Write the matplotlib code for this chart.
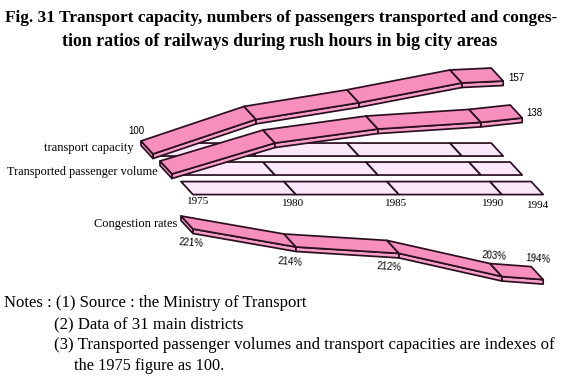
#Fig. 31 transport capacity, passengers and congestion on city railways
import matplotlib
matplotlib.use('Agg')
import matplotlib.pyplot as plt
from matplotlib.patches import Polygon

YEARS=['1975','1980','1985','1990','1994']
CAPACITY=[100,127,140,155.5,157]
PASSENGERS=[100,121,130.5,135,138]
#height of the congestion ribbon as drawn, the last label sits off the trend
CONGESTION=[221,214,211.5,202.5,201.3]
CONGESTION_LABELS=['221%','214%','212%','203%','194%']
CAPACITY_LABELS=['100','157']
PASSENGER_LABELS=['138']

W,H=567,380
XPOS=[0,1,2,3,3.4]
YEAR_PX=103.0
PINK='#f68fbd'
SIDE='#f7a0c8'
FLOOR='#fbe8fb'
EDGE='#2b0f1f'
SKEW=(-12,13)
THICK=4.5

plt.rcParams['font.family']=['Liberation Serif','DejaVu Serif']
fig=plt.figure(figsize=(W/100,H/100),dpi=100,facecolor='white')


def layer(x0,y0,scale,base):
    #full figure axes, x0/y0 is the pixel of position 0 and of the base value
    ax=fig.add_axes([0,0,1,1])
    ax.set_xlim(-x0/YEAR_PX,(W-x0)/YEAR_PX)
    ax.set_ylim(base+(y0-H)/scale,base+y0/scale)
    ax.axis('off')
    ax.patch.set_alpha(0)
    ax.unit_x=1/YEAR_PX
    ax.unit_y=1/scale
    return ax


def face(ax,pts,color,z):
    ax.add_patch(Polygon(pts,closed=True,facecolor=color,edgecolor=EDGE,
                         linewidth=1.25,joinstyle='round',zorder=z))


def floor(ax,level):
    dx=SKEW[0]*ax.unit_x
    dy=SKEW[1]*ax.unit_y
    for a,b in zip(XPOS[:-1],XPOS[1:]):
        face(ax,[(a,level),(b,level),(b+dx,level+dy),(a+dx,level+dy)],FLOOR,1)


def ribbon(ax,vals):
    dx=SKEW[0]*ax.unit_x
    dy=SKEW[1]*ax.unit_y
    t=THICK*ax.unit_y
    for i in range(len(vals)-1):
        a,b=XPOS[i],XPOS[i+1]
        va,vb=vals[i],vals[i+1]
        face(ax,[(a,va),(b,vb),(b,vb-t),(a,va-t)],SIDE,2)
        face(ax,[(a,va),(b,vb),(b+dx,vb+dy),(a+dx,va+dy)],PINK,3)
    #left end cap
    a,va=XPOS[0],vals[0]
    face(ax,[(a,va),(a+dx,va+dy),(a+dx,va+dy-t),(a,va-t)],SIDE,2)


ax1=layer(153,154,1.28,100)
floor(ax1,98.4)
ribbon(ax1,CAPACITY)

ax2=layer(172,174,1.474,100)
floor(ax2,99.3)
ribbon(ax2,PASSENGERS)

ax3=layer(193,229,2.57,221)
floor(ax3,234.4)
ribbon(ax3,CONGESTION)


def txt(x,y,s,**kw):
    kw.setdefault('va','center')
    fig.text(x/W,1-y/H,s,**kw)


#title
txt(5,18,'Fig. 31 Transport capacity, numbers of passengers transported and conges-',
    fontsize=12.45,fontweight='bold')
txt(62,41,'tion ratios of railways during rush hours in big city areas',
    fontsize=12.9,fontweight='bold')

#series names
txt(44,148,'transport capacity',fontsize=9)
txt(7,172,'Transported passenger volume',fontsize=8.8)
txt(94,224,'Congestion rates',fontsize=8.9)

#axis years
for year,x,y in zip(YEARS,[198,293,396,493,538],[202,204,204,204,206]):
    txt(x,y,year,fontsize=8,ha='center')

#value labels
for s,x,y in zip(CAPACITY_LABELS,[136,516],[131,78]):
    txt(x,y,s,fontsize=7,ha='center',family='Liberation Sans')
for s,x,y in zip(PASSENGER_LABELS,[534],[113]):
    txt(x,y,s,fontsize=7,ha='center',family='Liberation Sans')
for s,x,y in zip(CONGESTION_LABELS,[191,290,389,494,538],[243,262,267,256,259]):
    txt(x,y,s,fontsize=7,ha='center',family='Liberation Sans',rotation=-4)

#notes
txt(4,303,'Notes : (1) Source : the Ministry of Transport',fontsize=12)
txt(54,324,'(2) Data of 31 main districts',fontsize=12.1)
txt(54,345,'(3) Transported passenger volumes and transport capacities are indexes of',fontsize=12.2)
txt(74,366,'the 1975 figure as 100.',fontsize=11.7)

fig.savefig('out.png',dpi=100)
